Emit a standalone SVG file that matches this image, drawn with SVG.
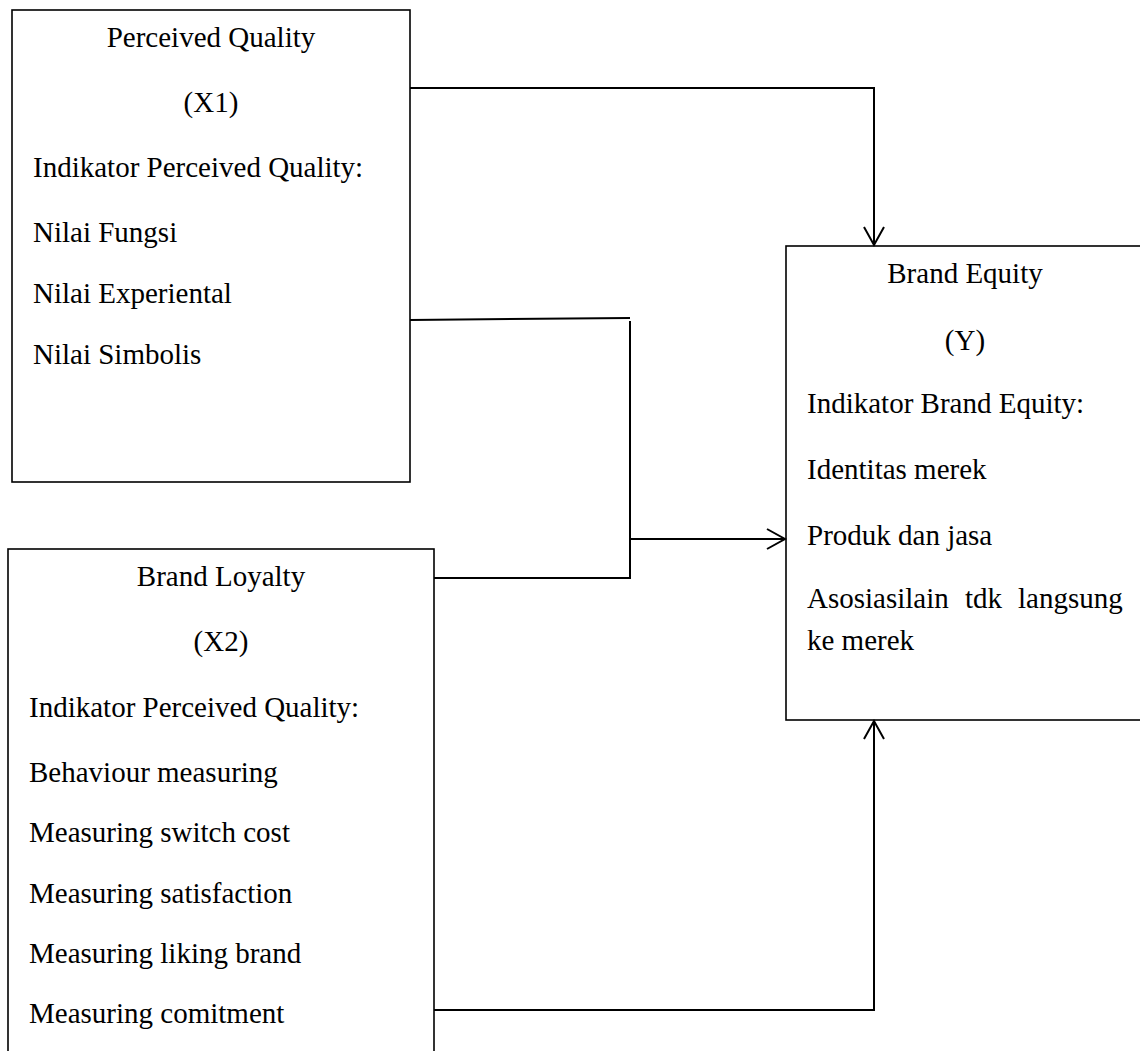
<svg xmlns="http://www.w3.org/2000/svg" width="1140" height="1051" viewBox="0 0 1140 1051">
<defs>
<style>
.box{fill:#fff;stroke:#000;stroke-width:1.6}
.t{font-family:"Liberation Serif","Times New Roman",serif;font-size:29px;fill:#000}
.c{text-anchor:middle}
.ln{fill:none;stroke:#000;stroke-width:2}
</style>
<marker id="arr" markerUnits="userSpaceOnUse" markerWidth="24" markerHeight="24" viewBox="-20 -12 24 24" refX="0" refY="0" orient="auto">
<path d="M-18,-10 L0,0 L-18,10" fill="none" stroke="#000" stroke-width="2"/>
</marker>
</defs>
<rect width="1140" height="1051" fill="#fff"/>
<g id="perceived-quality">
<rect class="box" x="12" y="10" width="398" height="472"/>
<text class="t c" x="211" y="47">Perceived Quality</text>
<text class="t c" x="211" y="112">(X1)</text>
<text class="t" x="33" y="177">Indikator Perceived Quality:</text>
<text class="t" x="33" y="242">Nilai Fungsi</text>
<text class="t" x="33" y="303">Nilai Experiental</text>
<text class="t" x="33" y="364">Nilai Simbolis</text>
</g>
<g id="brand-loyalty">
<rect class="box" x="8" y="549" width="426" height="520"/>
<text class="t c" x="221" y="586">Brand Loyalty</text>
<text class="t c" x="221" y="651">(X2)</text>
<text class="t" x="29" y="717">Indikator Perceived Quality:</text>
<text class="t" x="29" y="782">Behaviour measuring</text>
<text class="t" x="29" y="842">Measuring switch cost</text>
<text class="t" x="29" y="903">Measuring satisfaction</text>
<text class="t" x="29" y="963">Measuring liking brand</text>
<text class="t" x="29" y="1023">Measuring comitment</text>
</g>
<g id="brand-equity">
<rect class="box" x="786" y="246" width="370" height="474"/>
<text class="t c" x="965" y="283">Brand Equity</text>
<text class="t c" x="965" y="350">(Y)</text>
<text class="t" x="807" y="413">Indikator Brand Equity:</text>
<text class="t" x="807" y="479">Identitas merek</text>
<text class="t" x="807" y="545">Produk dan jasa</text>
<text class="t" y="608"><tspan x="807">Asosiasilain</tspan> <tspan x="965">tdk</tspan> <tspan x="1018">langsung</tspan></text>
<text class="t" x="807" y="650">ke merek</text>
</g>
<g id="connectors">
<path class="ln" d="M410,88 H874 V245" marker-end="url(#arr)"/>
<path class="ln" d="M410,320 L630,318"/>
<path class="ln" d="M630,321 V578 H434"/>
<path class="ln" d="M630,539 H785" marker-end="url(#arr)"/>
<path class="ln" d="M434,1010 H874 V721" marker-end="url(#arr)"/>
</g>
</svg>
